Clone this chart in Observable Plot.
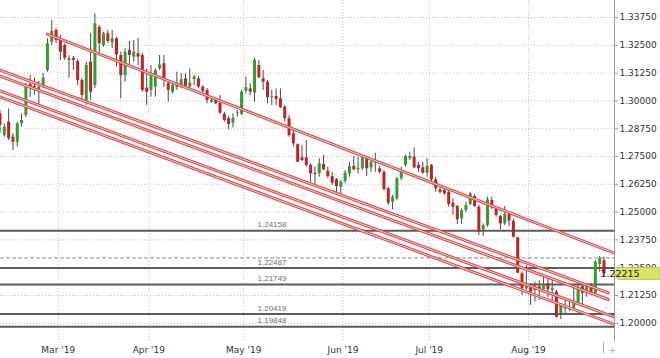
<!DOCTYPE html>
<html><head><meta charset="utf-8">
<script src="https://cdn.jsdelivr.net/npm/d3@7"></script>
<script src="https://cdn.jsdelivr.net/npm/@observablehq/plot@0.6"></script>
<style>
html,body{margin:0;padding:0;background:#fff;}
#chart{width:660px;height:358px;overflow:hidden;}
</style></head><body><div id="chart"></div>
<script>
// ---- data (GBP/USD daily) ----
const firstDay = "2019-02-11";
const open = [1.2942,1.2844,1.2904,1.2837,1.2814,1.2897,1.2934,1.3074,1.3065,1.3039,
 1.3069,1.3137,1.3264,1.3317,1.3279,1.3249,1.3182,1.3191,1.3177,1.3092,
 1.3002,1.3174,1.3069,1.3331,1.3249,1.3302,1.3261,1.3279,1.3204,1.3114,
 1.3227,1.3197,1.3212,1.3204,1.3057,1.3047,1.3062,1.3144,1.3167,1.3077,
 1.3039,1.3074,1.3065,1.3099,1.3062,1.3096,1.3099,1.3062,1.3047,1.2994,
 1.3002,1.2990,1.2939,1.2920,1.2900,1.2945,1.2939,1.3044,1.3054,1.3035,
 1.3159,1.3099,1.3084,1.3014,1.3020,1.3009,1.2972,1.2920,1.2852,1.2803,
 1.2744,1.2744,1.2710,1.2674,1.2672,1.2714,1.2684,1.2660,1.2645,1.2612,
 1.2639,1.2672,1.2705,1.2690,1.2695,1.2740,1.2699,1.2720,1.2695,1.2679,
 1.2605,1.2545,1.2560,1.2650,1.2710,1.2740,1.2747,1.2710,1.2699,1.2675,
 1.2710,1.2645,1.2600,1.2597,1.2589,1.2540,1.2525,1.2470,1.2507,1.2534,
 1.2570,1.2522,1.2420,1.2440,1.2552,1.2515,1.2480,1.2447,1.2489,1.2459,
 1.2384,1.2223,1.2155,1.2162,1.2147,1.2165,1.2151,1.2178,1.2147,1.2140,
 1.2045,1.2076,1.2072,1.2065,1.2088,1.2165,1.2135,1.2162,1.2133,1.2264,
 1.2282];
const high = [1.2957,1.2897,1.2964,1.2853,1.2904,1.2942,1.3078,1.3114,1.3102,1.3087,
 1.3123,1.3279,1.3362,1.3324,1.3294,1.3257,1.3204,1.3200,1.3186,1.3101,
 1.3174,1.3303,1.3392,1.3339,1.3309,1.3317,1.3317,1.3286,1.3219,1.3234,
 1.3267,1.3272,1.3281,1.3213,1.3144,1.3159,1.3144,1.3204,1.3204,1.3092,
 1.3078,1.3129,1.3122,1.3122,1.3144,1.3114,1.3110,1.3069,1.3056,1.3011,
 1.3009,1.3024,1.2949,1.2930,1.2942,1.2957,1.3047,1.3107,1.3077,1.3191,
 1.3182,1.3137,1.3092,1.3047,1.3054,1.3054,1.2979,1.2934,1.2867,1.2807,
 1.2799,1.2822,1.2717,1.2702,1.2740,1.2755,1.2702,1.2679,1.2651,1.2642,
 1.2687,1.2724,1.2750,1.2747,1.2755,1.2750,1.2740,1.2765,1.2705,1.2687,
 1.2612,1.2575,1.2657,1.2702,1.2755,1.2769,1.2789,1.2724,1.2724,1.2740,
 1.2714,1.2657,1.2609,1.2605,1.2597,1.2560,1.2530,1.2515,1.2545,1.2589,
 1.2579,1.2530,1.2447,1.2567,1.2567,1.2525,1.2485,1.2525,1.2498,1.2467,
 1.2387,1.2230,1.2260,1.2178,1.2185,1.2192,1.2215,1.2207,1.2200,1.2147,
 1.2088,1.2103,1.2099,1.2155,1.2178,1.2174,1.2178,1.2178,1.2282,1.2300,
 1.2297];
const low = [1.2853,1.2837,1.2822,1.2777,1.2792,1.2882,1.2925,1.3015,1.3027,1.2979,
 1.3056,1.3129,1.3249,1.3257,1.3182,1.3182,1.3102,1.3137,1.3069,1.2994,
 1.2979,1.3002,1.3056,1.3212,1.3241,1.3258,1.3236,1.3152,1.3009,1.3084,
 1.3162,1.3174,1.3159,1.3039,1.2979,1.3017,1.3017,1.3137,1.3062,1.2994,
 1.3032,1.3047,1.3054,1.3054,1.3056,1.3069,1.3054,1.3036,1.2987,1.2988,
 1.2984,1.2939,1.2904,1.2870,1.2879,1.2927,1.2934,1.3032,1.3024,1.2994,
 1.3101,1.3047,1.2987,1.2979,1.2979,1.2966,1.2904,1.2837,1.2792,1.2723,
 1.2728,1.2702,1.2634,1.2620,1.2657,1.2687,1.2650,1.2620,1.2582,1.2570,
 1.2627,1.2657,1.2687,1.2672,1.2687,1.2660,1.2679,1.2679,1.2672,1.2597,
 1.2530,1.2510,1.2552,1.2642,1.2702,1.2732,1.2695,1.2679,1.2669,1.2657,
 1.2634,1.2589,1.2582,1.2575,1.2522,1.2485,1.2444,1.2444,1.2498,1.2530,
 1.2522,1.2395,1.2390,1.2432,1.2512,1.2477,1.2420,1.2440,1.2435,1.2384,
 1.2223,1.2125,1.2147,1.2080,1.2095,1.2103,1.2138,1.2117,1.2103,1.2025,
 1.2016,1.2043,1.2053,1.2058,1.2080,1.2072,1.2117,1.2130,1.2125,1.2230,
 1.2207];
const close = [1.2889,1.2882,1.2830,1.2814,1.2897,1.2912,1.3069,1.3065,1.3060,1.3062,
 1.3102,1.3257,1.3312,1.3272,1.3219,1.3191,1.3191,1.3182,1.3092,1.3024,
 1.3159,1.3039,1.3347,1.3257,1.3302,1.3267,1.3279,1.3207,1.3114,1.3219,
 1.3204,1.3219,1.3197,1.3047,1.3039,1.3114,1.3137,1.3162,1.3092,1.3047,
 1.3069,1.3062,1.3095,1.3066,1.3080,1.3108,1.3062,1.3042,1.3002,1.3002,
 1.2987,1.2945,1.2912,1.2894,1.2922,1.2943,1.3039,1.3059,1.3039,1.3182,
 1.3104,1.3084,1.3014,1.3018,1.3006,1.2969,1.2920,1.2844,1.2807,1.2724,
 1.2732,1.2710,1.2672,1.2669,1.2717,1.2690,1.2660,1.2630,1.2615,1.2634,
 1.2675,1.2705,1.2690,1.2695,1.2744,1.2695,1.2724,1.2729,1.2679,1.2600,
 1.2540,1.2567,1.2650,1.2687,1.2750,1.2750,1.2699,1.2695,1.2675,1.2705,
 1.2645,1.2605,1.2589,1.2582,1.2534,1.2522,1.2465,1.2507,1.2530,1.2582,
 1.2525,1.2410,1.2440,1.2555,1.2519,1.2485,1.2447,1.2489,1.2459,1.2387,
 1.2225,1.2155,1.2165,1.2140,1.2165,1.2147,1.2173,1.2151,1.2156,1.2027,
 1.2080,1.2065,1.2061,1.2088,1.2155,1.2135,1.2165,1.2133,1.2275,1.2290,
 1.22215];

const yTicks = [1.2, 1.2125, 1.225, 1.2375, 1.25, 1.2625, 1.275, 1.2875, 1.3, 1.3125, 1.325, 1.3375];
const monthStarts = ["2019-03", "2019-04", "2019-05", "2019-06", "2019-07", "2019-08"];
const monthLabels = ["Mar '19", "Apr '19", "May '19", "Jun '19", "Jul '19", "Aug '19"];

const levels = [1.24158, 1.22487, 1.21749, 1.20419, 1.19848];
const levelLabelDate = "2019-05-03";
const dashedLevel = 1.2294;
const lastPrice = 1.22215;

const trendNames = ["upper", "lowA1", "lowA2", "lowB1", "lowB2"];
const trendStartDate = ["2019-02-26", "2019-02-11", "2019-02-11", "2019-02-11", "2019-02-11"];
const trendStartPrice = [1.3300, 1.3138, 1.3111, 1.3045, 1.3018];
const trendEndDate = ["2019-08-29", "2019-08-27", "2019-08-27", "2019-08-29", "2019-08-29"];
const trendEndPrice = [1.2311, 1.2137, 1.2107, 1.2024, 1.1991];

// ---- trading-day calendar (weekdays) ----
const fmt = d3.utcFormat("%Y-%m-%d");
const calendar = d3.utcDays(new Date(firstDay + "T00:00Z"), new Date("2019-09-07T00:00Z"))
  .filter(d => d.getUTCDay() % 6 !== 0);
const idxOf = new Map(calendar.map((d, i) => [fmt(d), i]));

const candles = open.map((o, i) => ({i, o, h: high[i], l: low[i], c: close[i], up: close[i] >= o}));
const monthTicks = monthStarts.map((m, k) => ({
  i: calendar.findIndex(d => fmt(d).startsWith(m)) - 0.5,
  label: monthLabels[k]
}));
const trendPts = trendNames.flatMap((n, k) => [
  {id: n, i: idxOf.get(trendStartDate[k]), p: trendStartPrice[k]},
  {id: n, i: idxOf.get(trendEndDate[k]), p: trendEndPrice[k]}
]);
const labelIdx = idxOf.get(levelLabelDate);

const GREEN = "#2f9e2f", RED = "#c42222", WICK = "#4a4a4a";
const xDomain = [0.116, 142.44];
const yDomain = [1.19227, 1.34514];
const bodyY2 = d => Math.abs(d.o - d.c) < 0.00022 ? d.o - (d.up ? -0.00022 : 0.00022) : d.c;

const plot = Plot.plot({
  width: 660, height: 358,
  marginLeft: 0, marginRight: 46, marginTop: 0, marginBottom: 18,
  style: {background: "#fff", fontFamily: "DejaVu Sans, Verdana, sans-serif", fontSize: "9px", color: "#333"},
  x: {type: "linear", domain: xDomain, axis: null},
  y: {type: "linear", domain: yDomain, axis: null},
  marks: [
    Plot.ruleY(yTicks, {stroke: "#c4c4c4", strokeDasharray: "1,2"}),
    Plot.ruleX(monthTicks, {x: "i", stroke: "#c4c4c4", strokeDasharray: "1,2"}),
    Plot.ruleY([dashedLevel], {stroke: "#8a8a8a", strokeDasharray: "4,2"}),
    Plot.ruleY(levels, {stroke: "#5c5c5c", strokeWidth: 2}),
    Plot.text(levels, {x: () => labelIdx, y: d => d, text: d => d.toFixed(5), dx: 3, dy: -6,
      textAnchor: "start", fontSize: 8, fill: "#6e6e6e", fontFamily: "Liberation Sans, Arial, sans-serif"}),
    // wicks
    Plot.ruleX(candles, {x: "i", y1: "l", y2: "h", stroke: WICK, strokeWidth: 1}),
    // bodies
    Plot.ruleX(candles.filter(d => d.up), {x: "i", y1: "o", y2: bodyY2, stroke: GREEN, strokeWidth: 3}),
    Plot.ruleX(candles.filter(d => !d.up), {x: "i", y1: "o", y2: bodyY2, stroke: RED, strokeWidth: 3}),
    // trend channel lines (double red stroke)
    Plot.line(trendPts, {x: "i", y: "p", z: "id", stroke: "#d84848", strokeWidth: 3, clip: true}),
    Plot.line(trendPts, {x: "i", y: "p", z: "id", stroke: "#f6caca", strokeWidth: 1, clip: true}),
    // right price axis
    Plot.frame({anchor: "right", stroke: "#9a9a9a"}),
    Plot.axisY(yTicks, {anchor: "right", tickSize: 3, tickPadding: 2, stroke: "#9a9a9a",
      tickFormat: d => d.toFixed(5), fontSize: 9, fill: "#333", textAnchor: "start"}),
    // month labels
    Plot.text(monthTicks, {x: "i", frameAnchor: "bottom", dy: 10, text: "label",
      lineAnchor: "middle", fontSize: 9, fill: "#333"})
  ]
});
document.getElementById("chart").appendChild(plot);

// current price tag on the axis, positioned through the plot's own scales
const sx = plot.scale("x"), sy = plot.scale("y");
const svg = d3.select(plot);
const py = sy.apply(lastPrice);
const ax = sx.apply(xDomain[1]);
const tag = svg.append("g");
tag.append("path")
  .attr("d", `M${ax},${py} L${ax + 4},${py - 6} L${660},${py - 6} L${660},${py + 6} L${ax + 4},${py + 6} Z`)
  .attr("fill", "#dbe26a").attr("stroke", "#b9c048").attr("stroke-width", 0.8);
tag.append("text").attr("x", ax + 6).attr("y", py).attr("dy", "0.34em")
  .attr("font-size", 9.5).attr("fill", "#222")
  .attr("font-family", "DejaVu Sans, Verdana, sans-serif").text(lastPrice.toFixed(5));
const lx = sx.apply(candles.length - 1);
const by = sy.range ? sy.range[0] : 340;
svg.append("line").attr("x1", lx).attr("x2", lx).attr("y1", by + 2).attr("y2", by + 13)
  .attr("stroke", "#b0b0b0");
svg.append("text").attr("x", lx + 9).attr("y", by + 10).attr("dy", "0.32em")
  .attr("text-anchor", "middle").attr("font-size", 8).attr("fill", "#aaa").text("+");
</script>
</body></html>
